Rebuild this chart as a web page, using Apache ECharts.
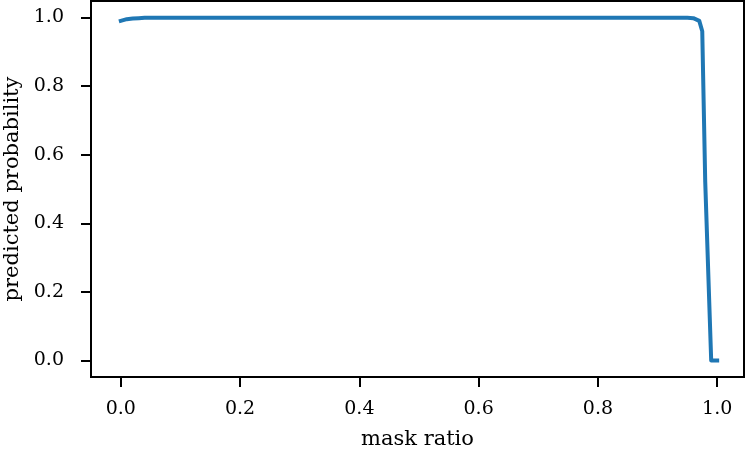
<!DOCTYPE html>
<html>
<head>
<meta charset="utf-8">
<script src="https://cdn.jsdelivr.net/npm/echarts@6/dist/echarts.min.js"></script>
<style>
  html, body { margin: 0; padding: 0; background: #fff; }
  #chart { width: 747px; height: 455px; }
</style>
</head>
<body>
<div id="chart"></div>
<script>
// x: mask ratio, y: predicted probability
const maskRatio = [
  0.00, 0.01, 0.02, 0.03, 0.04, 0.05, 0.06, 0.07, 0.08, 0.09,
  0.10, 0.11, 0.12, 0.13, 0.14, 0.15, 0.16, 0.17, 0.18, 0.19,
  0.20, 0.21, 0.22, 0.23, 0.24, 0.25, 0.26, 0.27, 0.28, 0.29,
  0.30, 0.31, 0.32, 0.33, 0.34, 0.35, 0.36, 0.37, 0.38, 0.39,
  0.40, 0.41, 0.42, 0.43, 0.44, 0.45, 0.46, 0.47, 0.48, 0.49,
  0.50, 0.51, 0.52, 0.53, 0.54, 0.55, 0.56, 0.57, 0.58, 0.59,
  0.60, 0.61, 0.62, 0.63, 0.64, 0.65, 0.66, 0.67, 0.68, 0.69,
  0.70, 0.71, 0.72, 0.73, 0.74, 0.75, 0.76, 0.77, 0.78, 0.79,
  0.80, 0.81, 0.82, 0.83, 0.84, 0.85, 0.86, 0.87, 0.88, 0.89,
  0.90, 0.91, 0.92, 0.93, 0.94, 0.95, 0.96, 0.97, 0.975, 0.98, 0.99, 1.00
]
const probability = [
  0.990, 0.995, 0.997, 0.998, 0.999, 0.999, 0.999, 0.999, 0.999, 0.999,
  0.999, 0.999, 0.999, 0.999, 0.999, 0.999, 0.999, 0.999, 0.999, 0.999,
  0.999, 0.999, 0.999, 0.999, 0.999, 0.999, 0.999, 0.999, 0.999, 0.999,
  0.999, 0.999, 0.999, 0.999, 0.999, 0.999, 0.999, 0.999, 0.999, 0.999,
  0.999, 0.999, 0.999, 0.999, 0.999, 0.999, 0.999, 0.999, 0.999, 0.999,
  0.999, 0.999, 0.999, 0.999, 0.999, 0.999, 0.999, 0.999, 0.999, 0.999,
  0.999, 0.999, 0.999, 0.999, 0.999, 0.999, 0.999, 0.999, 0.999, 0.999,
  0.999, 0.999, 0.999, 0.999, 0.999, 0.999, 0.999, 0.999, 0.999, 0.999,
  0.999, 0.999, 0.999, 0.999, 0.999, 0.999, 0.999, 0.999, 0.999, 0.999,
  0.999, 0.999, 0.999, 0.999, 0.999, 0.999, 0.998, 0.990, 0.960, 0.520, 0.000, 0.000
]
const xTicks = [0, 0.2, 0.4, 0.6, 0.8, 1.0]
const yTicks = [0, 0.2, 0.4, 0.6, 0.8, 1.0]

const font = 'DejaVu Serif'
const chart = echarts.init(document.getElementById('chart'))

function axisBase (name, ticks, gap) {
  return {
    type: 'value',
    name: name,
    nameLocation: 'middle',
    nameGap: gap,
    nameTextStyle: { fontFamily: font, fontSize: 21, color: '#000' },
    splitLine: { show: false },
    axisLine: { show: true, onZero: false, lineStyle: { color: '#000', width: 2 } },
    axisTick: { show: true, customValues: ticks, length: 10, lineStyle: { color: '#000', width: 2 } },
    axisLabel: {
      customValues: ticks,
      fontFamily: font,
      fontSize: 19,
      color: '#000',
      formatter: v => v.toFixed(1)
    }
  }
}

const xAxis = axisBase('mask ratio', xTicks, 52)
xAxis.min = -0.05
xAxis.max = 1.045
xAxis.axisLabel.margin = 23

const yAxis = axisBase('predicted probability', yTicks, 66)
yAxis.min = -0.048
yAxis.max = 1.048
yAxis.axisLabel.margin = 27

chart.setOption({
  animation: false,
  grid: {
    left: 91, right: 3, top: 1, bottom: 78,
    outerBoundsMode: 'none',
    containLabel: false,
    show: true, borderColor: '#000', borderWidth: 2, backgroundColor: '#fff'
  },
  xAxis: xAxis,
  yAxis: yAxis,
  series: [
    {
      type: 'line',
      data: maskRatio.map((x, i) => [x, probability[i]]),
      showSymbol: false,
      lineStyle: { color: '#1f77b4', width: 4, join: 'round', cap: 'square' }
    }
  ]
})
</script>
</body>
</html>
